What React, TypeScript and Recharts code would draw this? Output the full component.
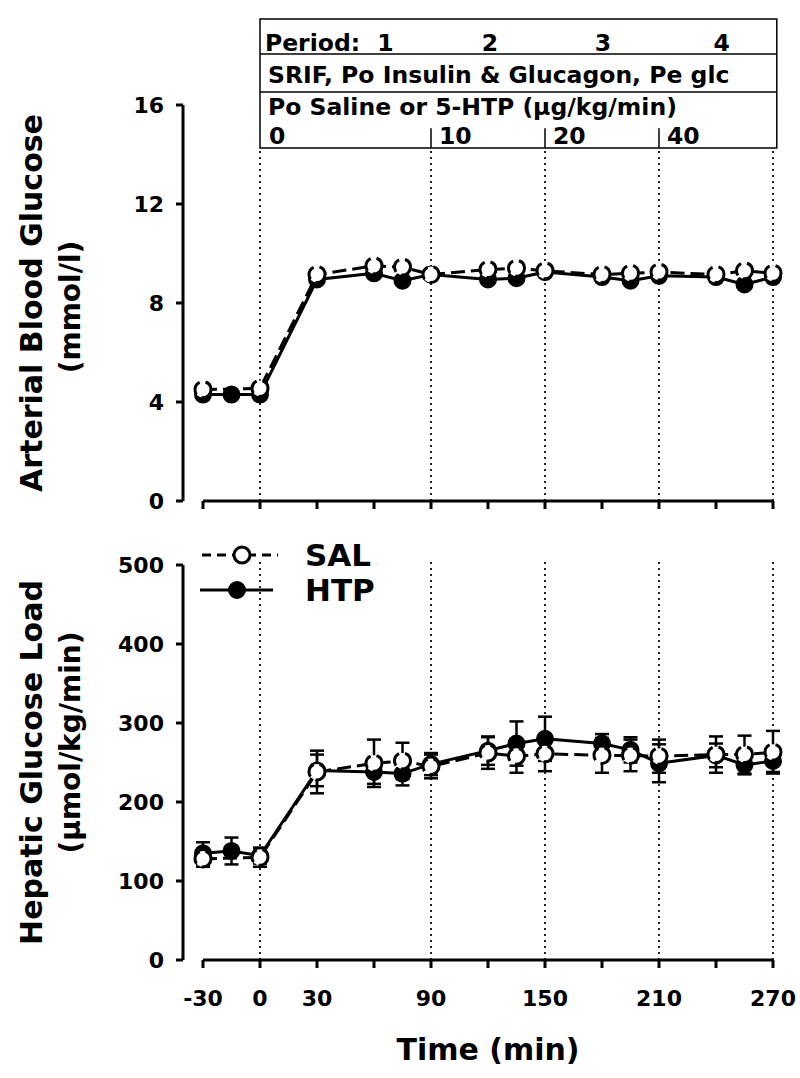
import React from 'react';
import {
  LineChart,
  Line,
  XAxis,
  YAxis,
  ReferenceLine,
  ReferenceArea,
  ReferenceDot,
  ErrorBar,
  Legend,
} from 'recharts';

// ---------- data ----------
const times = [-30, -15, 0, 30, 60, 75, 90, 120, 135, 150, 180, 195, 210, 240, 255, 270];

const glucoseSAL = [4.5, null, 4.55, 9.15, 9.5, 9.45, 9.15, 9.35, 9.4, 9.3, 9.15, 9.2, 9.25, 9.15, 9.3, 9.2];
const glucoseHTP = [4.3, 4.3, 4.3, 8.95, 9.2, 8.9, 9.15, 8.95, 9.0, 9.25, 9.05, 8.9, 9.1, 9.05, 8.75, 9.05];

const loadSAL = [128, null, 130, 238, 249, 252, 245, 262, 258, 261, 259, 259, 258, 260, 260, 263];
const loadSALErr = [10, null, 12, 27, 30, 23, 15, 20, 21, 22, 22, 20, 21, 23, 24, 27];
const loadHTP = [135, 138, 132, 240, 238, 236, 248, 265, 274, 280, 274, 266, 249, 259, 247, 252];
const loadHTPErr = [14, 17, 10, 20, 15, 15, 14, 18, 28, 28, 12, 16, 24, 15, 12, 14];

const seriesNames = ['SAL', 'HTP'];

const xTicks = [-30, 0, 30, 60, 90, 120, 150, 180, 210, 240, 270];
const xTickLabels = [-30, 0, 30, 90, 150, 210, 270];
const glucoseTicks = [0, 4, 8, 12, 16];
const loadTicks = [0, 100, 200, 300, 400, 500];

const periodBoundaries = [0, 90, 150, 210, 270];
const periodNumbers = ['1', '2', '3', '4'];
const periodNumberAt = [66, 121, 180.5, 243];
const doseLabels = ['0', '10', '20', '40'];
const doseLabelAt = [4.7, 94.2, 154.2, 214.2];

const titleTop = ['Arterial Blood Glucose', '(mmol/l)'];
const titleBottom = ['Hepatic Glucose Load', '(\u00b5mol/kg/min)'];
const xTitle = 'Time (min)';
const headerRow1 = 'Period:';
const headerRow2 = 'SRIF, Po Insulin & Glucagon, Pe glc';
const headerRow3 = 'Po Saline or 5-HTP (\u00b5g/kg/min)';

// ---------- assembled tables ----------
const topData = times.map((t, i) => ({ t, sal: glucoseSAL[i], htp: glucoseHTP[i] }));
const bottomData = times.map((t, i) => ({
  t,
  sal: loadSAL[i],
  salErr: loadSALErr[i],
  htp: loadHTP[i],
  htpErr: loadHTPErr[i],
}));

// ---------- style ----------
const FONT = '"DejaVu Sans", "Liberation Sans", sans-serif';
const tickStyle = { fill: '#000', fontSize: 22, fontWeight: 'bold', fontFamily: FONT };
const dotted = { stroke: '#222', strokeWidth: 2, strokeDasharray: '2 4' };

const YTitle = (props: any) => {
  const vb = props.viewBox || { x: 0, y: 0, width: 183, height: 396 };
  const cy = vb.y + vb.height / 2;
  const lines: string[] = props.lines;
  const dy2: number = props.dy2 || 0;
  return (
    <g>
      <text
        transform={`translate(42, ${cy}) rotate(-90)`}
        textAnchor="middle"
        fontSize={30}
        fontWeight="bold"
        fontFamily={FONT}
        fill="#000"
      >
        {lines[0]}
      </text>
      <text
        transform={`translate(80, ${cy + dy2}) rotate(-90)`}
        textAnchor="middle"
        fontSize={28}
        fontWeight="bold"
        fontFamily={FONT}
        fill="#000"
      >
        {lines[1]}
      </text>
    </g>
  );
};

const XTitle = (props: any) => {
  const vb = props.viewBox || { x: 183, y: 430, width: 590, height: 80 };
  return (
    <text
      x={vb.x + vb.width / 2 + 10}
      y={vb.y + 100}
      textAnchor="middle"
      fontSize={30}
      fontWeight="bold"
      fontFamily={FONT}
      fill="#000"
    >
      {xTitle}
    </text>
  );
};

const LegendContent = () => (
  <svg width={200} height={75} style={{ display: 'block', overflow: 'visible' }}>
    <line x1={7} x2={83} y1={15} y2={15} stroke="#000" strokeWidth={3} strokeDasharray="9 6" />
    <circle cx={47} cy={15} r={8} fill="#fff" stroke="#000" strokeWidth={3} />
    <text x={110} y={26} fontSize={31} fontWeight="bold" fontFamily={FONT} fill="#000">
      {seriesNames[0]}
    </text>
    <line x1={5} x2={78} y1={50} y2={50} stroke="#000" strokeWidth={3} />
    <circle cx={42} cy={50} r={8} fill="#000" stroke="#000" strokeWidth={2} />
    <text x={110} y={61} fontSize={31} fontWeight="bold" fontFamily={FONT} fill="#000">
      {seriesNames[1]}
    </text>
  </svg>
);

const headerLabel = (value: string, position: any, fontSize = 23.5) => ({
  value,
  position,
  offset: 0,
  fontSize,
  fontWeight: 'bold',
  fill: '#000',
  fontFamily: FONT,
});

export default function App() {
  const boxTop = 19.47;
  const boxRow1 = 18.06;
  const boxRow2 = 16.53;
  const boxBottom = 14.26;
  const boxRight = 272;

  return (
    <div style={{ position: 'absolute', left: 0, top: 0, width: 800, height: 1078, background: '#fff', fontFamily: FONT }}>
      <div style={{ position: 'absolute', left: 0, top: 0 }}>
        <LineChart width={800} height={530} data={topData} margin={{ top: 105, right: 27, bottom: 9, left: 0 }}>
          <XAxis
            dataKey="t"
            type="number"
            domain={[-30, 270]}
            ticks={xTicks}
            interval={0}
            padding={{ left: 20, right: 0 }}
            axisLine={false}
            tickLine={{ stroke: '#000', strokeWidth: 3 }}
            tickSize={8}
            tickFormatter={() => ''}
            height={20}
          />
          <YAxis
            type="number"
            domain={[0, 16]}
            ticks={glucoseTicks}
            interval={0}
            width={183}
            axisLine={{ stroke: '#000', strokeWidth: 3 }}
            tickLine={{ stroke: '#000', strokeWidth: 3 }}
            tickSize={7}
            tickMargin={12}
            tick={tickStyle}
            label={<YTitle lines={titleTop} dy2={4} />}
          />
          <ReferenceArea
            x1={0}
            x2={boxRight}
            y1={boxBottom}
            y2={boxTop}
            ifOverflow="visible"
            fill="#fff"
            fillOpacity={1}
            stroke="#000"
            strokeWidth={1.5}
          />
          <ReferenceLine
            segment={[{ x: 0, y: boxRow1 }, { x: boxRight, y: boxRow1 }]}
            ifOverflow="visible"
            stroke="#000"
            strokeWidth={1.5}
          />
          <ReferenceLine
            segment={[{ x: 0, y: boxRow2 }, { x: boxRight, y: boxRow2 }]}
            ifOverflow="visible"
            stroke="#000"
            strokeWidth={1.5}
          />
          {periodBoundaries.map((b) => (
            <ReferenceLine
              key={`pl${b}`}
              segment={[{ x: b, y: 0 }, { x: b, y: boxBottom }]}
              ifOverflow="visible"
              {...dotted}
            />
          ))}
          {periodBoundaries.slice(1, 4).map((b) => (
            <ReferenceLine
              key={`pm${b}`}
              segment={[{ x: b, y: boxBottom }, { x: b, y: boxBottom + 0.8 }]}
              ifOverflow="visible"
              stroke="#000"
              strokeWidth={1.5}
            />
          ))}
          <ReferenceLine
            segment={[{ x: -30, y: 0 }, { x: 270, y: 0 }]}
            ifOverflow="visible"
            stroke="#000"
            strokeWidth={3}
          />
          <ReferenceDot x={2.6} y={18.5} r={0} ifOverflow="visible" label={headerLabel(headerRow1, 'right')} />
          {periodNumbers.map((p, i) => (
            <ReferenceDot key={`pn${p}`} x={periodNumberAt[i]} y={18.5} r={0} ifOverflow="visible" label={headerLabel(p, 'center')} />
          ))}
          <ReferenceDot x={4.2} y={17.23} r={0} ifOverflow="visible" label={headerLabel(headerRow2, 'right')} />
          <ReferenceDot x={4.2} y={15.94} r={0} ifOverflow="visible" label={headerLabel(headerRow3, 'right')} />
          {doseLabels.map((d, i) => (
            <ReferenceDot key={`dl${d}`} x={doseLabelAt[i]} y={14.75} r={0} ifOverflow="visible" label={headerLabel(d, 'right')} />
          ))}
          <Line
            dataKey="htp"
            name={seriesNames[1]}
            stroke="#000"
            strokeWidth={3}
            dot={{ r: 8, fill: '#000', stroke: '#000', strokeWidth: 2 }}
            isAnimationActive={false}
            connectNulls
          />
          <Line
            dataKey="sal"
            name={seriesNames[0]}
            stroke="#000"
            strokeWidth={3}
            strokeDasharray="14 6"
            dot={{ r: 8, fill: '#fff', stroke: '#000', strokeWidth: 3 }}
            isAnimationActive={false}
            connectNulls
          />
        </LineChart>
      </div>

      <div style={{ position: 'absolute', left: 0, top: 530 }}>
        <LineChart width={800} height={548} data={bottomData} margin={{ top: 35, right: 27, bottom: 38, left: 0 }}>
          <XAxis
            dataKey="t"
            type="number"
            domain={[-30, 270]}
            ticks={xTicks}
            interval={0}
            padding={{ left: 20, right: 0 }}
            axisLine={false}
            tickLine={{ stroke: '#000', strokeWidth: 3 }}
            tickSize={8}
            tickMargin={22}
            tick={tickStyle}
            tickFormatter={(v: number) => (xTickLabels.includes(v) ? String(v) : '')}
            height={80}
            label={<XTitle />}
          />
          <YAxis
            type="number"
            domain={[0, 500]}
            ticks={loadTicks}
            interval={0}
            width={183}
            axisLine={{ stroke: '#000', strokeWidth: 3 }}
            tickLine={{ stroke: '#000', strokeWidth: 3 }}
            tickSize={7}
            tickMargin={12}
            tick={tickStyle}
            label={<YTitle lines={titleBottom} dy2={-20} />}
          />
          <Legend
            layout="vertical"
            align="center"
            verticalAlign="middle"
            content={<LegendContent />}
            wrapperStyle={{ left: 195, top: 10, width: 200, height: 75 }}
          />
          {periodBoundaries.map((b) => (
            <ReferenceLine
              key={`bl${b}`}
              segment={[{ x: b, y: 0 }, { x: b, y: 506 }]}
              ifOverflow="visible"
              {...dotted}
            />
          ))}
          <ReferenceLine
            segment={[{ x: -30, y: 0 }, { x: 270, y: 0 }]}
            ifOverflow="visible"
            stroke="#000"
            strokeWidth={3}
          />
          <Line
            dataKey="htp"
            name={seriesNames[1]}
            stroke="#000"
            strokeWidth={3}
            dot={{ r: 8, fill: '#000', stroke: '#000', strokeWidth: 2 }}
            isAnimationActive={false}
            connectNulls
          >
            <ErrorBar dataKey="htpErr" width={7} stroke="#000" strokeWidth={2.5} direction="y" />
          </Line>
          <Line
            dataKey="sal"
            name={seriesNames[0]}
            stroke="#000"
            strokeWidth={3}
            strokeDasharray="14 6"
            dot={{ r: 8, fill: '#fff', stroke: '#000', strokeWidth: 3 }}
            isAnimationActive={false}
            connectNulls
          >
            <ErrorBar dataKey="salErr" width={7} stroke="#000" strokeWidth={2.5} direction="y" />
          </Line>
        </LineChart>
      </div>
    </div>
  );
}
